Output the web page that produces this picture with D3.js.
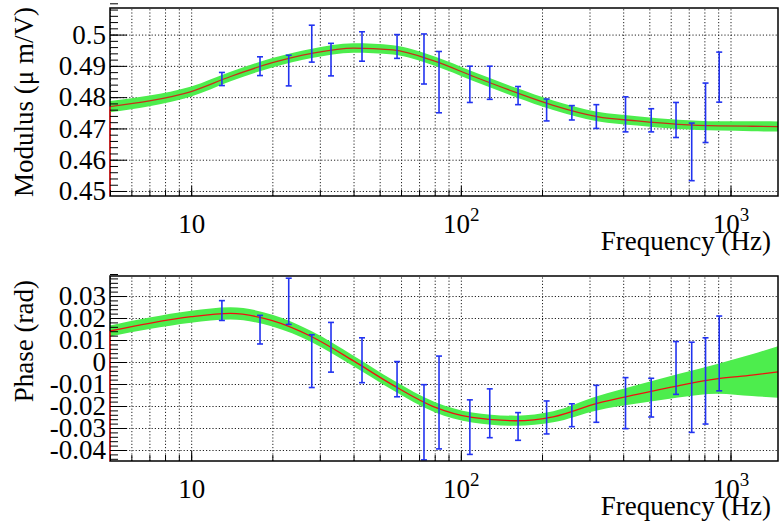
<!DOCTYPE html>
<html>
<head>
<meta charset="utf-8">
<script src="https://cdn.jsdelivr.net/npm/d3@7"></script>
<style>
  body { margin: 0; background: #fff; }
</style>
</head>
<body>
<svg id="chart" width="780" height="530" font-family="Liberation Serif"></svg>
<script>
// measured points (Hz)
const freq = [13, 18, 23, 28, 33, 43, 58, 73, 83, 108, 128, 163, 208, 258, 318, 408, 508, 628, 718, 808, 908];
const modulus = [0.4858, 0.4899, 0.4885, 0.4971, 0.4920, 0.4962, 0.4962, 0.4922, 0.4848, 0.4841, 0.4846,
                 0.4805, 0.4759, 0.4750, 0.4738, 0.4745, 0.4726, 0.4727, 0.4625, 0.4750, 0.4864];
const modulusErr = [0.0021, 0.0030, 0.0049, 0.0059, 0.0052, 0.0047, 0.0038, 0.0080, 0.0098, 0.0058, 0.0053,
                    0.0029, 0.0035, 0.0023, 0.0038, 0.0056, 0.0037, 0.0056, 0.0092, 0.0095, 0.0080];
const phase = [0.0234, 0.0147, 0.0276, 0.0004, 0.0067, 0.0008, -0.0078, -0.0274, -0.0184, -0.0296, -0.0233,
               -0.0293, -0.0252, -0.0242, -0.0190, -0.0187, -0.0162, -0.0027, -0.0115, -0.0086, 0.0039];
const phaseErr = [0.0045, 0.0065, 0.0105, 0.0120, 0.0113, 0.0102, 0.0080, 0.0171, 0.0211, 0.0124, 0.0111,
                  0.0063, 0.0075, 0.0052, 0.0084, 0.0116, 0.0088, 0.0120, 0.0205, 0.0196, 0.0170];

// fitted curve and its band, read at these frequencies
const fitFreq = [5, 7, 10, 14, 20, 28, 40, 56, 80, 110, 160, 220, 320, 450, 640, 900, 1200, 1500];
const modulusFit = [0.4770, 0.4788, 0.4818, 0.4866, 0.4910, 0.4940, 0.4957, 0.4951, 0.4915, 0.4868, 0.4815,
                    0.4774, 0.4738, 0.4724, 0.4713, 0.4708, 0.4707, 0.4706];
const modulusBand = [0.0018, 0.0017, 0.0016, 0.0015, 0.0015, 0.0015, 0.0015, 0.0015, 0.0015, 0.0015, 0.0015,
                     0.0015, 0.0015, 0.0015, 0.0015, 0.0015, 0.0016, 0.0016];
const phaseFit = [0.0141, 0.0176, 0.0206, 0.0221, 0.0188, 0.0115, 0.0005, -0.0105, -0.0205, -0.0252, -0.0267,
                  -0.0249, -0.0188, -0.0147, -0.0108, -0.0076, -0.0060, -0.0045];
const phaseBand = [0.0025, 0.0026, 0.0027, 0.0028, 0.0027, 0.0025, 0.0024, 0.0023, 0.0023, 0.0023, 0.0023,
                   0.0025, 0.0032, 0.0042, 0.0053, 0.0068, 0.0095, 0.0117];

const modulusTicks = [0.45, 0.46, 0.47, 0.48, 0.49, 0.5];
const modulusLabels = ['0.45', '0.46', '0.47', '0.48', '0.49', '0.5'];
const phaseTicks = [-0.04, -0.03, -0.02, -0.01, 0, 0.01, 0.02, 0.03];
const phaseLabels = ['-0.04', '-0.03', '-0.02', '-0.01', '0', '0.01', '0.02', '0.03'];
const freqTicks = [10, 100, 1000];
const freqLabels = [['10', ''], ['10', '2'], ['10', '3']];

const left = 110, right = 778;
const svg = d3.select('#chart');
const x = d3.scaleLog().domain([5, 1500]).range([left, right]);

function serifText(sel, size) {
  return sel
    .attr('font-family', 'Liberation Serif')
    .attr('font-size', size)
    .style('font-family', '"Liberation Serif"');
}

// d3 axes put font-family="sans-serif" on their group; drop it
function plainAxis(a) {
  a.attr('font-family', null).attr('font-size', null);
  a.select('.domain').remove();
  a.selectAll('line').attr('stroke', '#000');
}

function drawPanel(p) {
  const y = d3.scaleLinear().domain(p.domain).range([p.bottom, p.top]);
  const g = svg.append('g');
  const height = p.bottom - p.top;

  // grid
  g.append('g')
    .attr('transform', `translate(0, ${p.bottom})`)
    .call(d3.axisBottom(x).tickSize(-height).tickSizeOuter(0).tickFormat(''))
    .call(plainAxis)
    .selectAll('line')
      .attr('stroke', '#222')
      .attr('stroke-dasharray', '1.2,2');
  g.append('g')
    .attr('transform', `translate(${left}, 0)`)
    .call(d3.axisLeft(y).tickValues(p.ticks).tickSize(-(right - left)).tickSizeOuter(0).tickFormat(''))
    .call(plainAxis)
    .selectAll('line')
      .attr('stroke', '#222')
      .attr('stroke-dasharray', '1.2,2');

  // fit band and curve
  const fit = fitFreq.map((f, i) => ({ f, v: p.fit[i], b: p.band[i] }));
  g.append('path')
    .datum(fit)
    .attr('d', d3.area()
      .x(d => x(d.f))
      .y0(d => y(d.v - d.b))
      .y1(d => y(d.v + d.b))
      .curve(d3.curveMonotoneX))
    .attr('fill', '#4ded4d');
  g.append('path')
    .datum(fit)
    .attr('d', d3.line()
      .x(d => x(d.f))
      .y(d => y(d.v))
      .curve(d3.curveMonotoneX))
    .attr('fill', 'none')
    .attr('stroke', p.lineColor)
    .attr('stroke-width', 1.3);

  // error bars, kept inside the frame
  const [lo, hi] = p.domain;
  const pts = freq.map((f, i) => ({
    f,
    a: Math.max(p.values[i] - p.errors[i], lo),
    b: Math.min(p.values[i] + p.errors[i], hi)
  }));
  const bars = g.append('g')
    .selectAll('g')
    .data(pts)
    .join('g')
      .attr('stroke', '#2233f0')
      .attr('stroke-width', 1.6);
  bars.append('line')
    .attr('x1', d => x(d.f))
    .attr('x2', d => x(d.f))
    .attr('y1', d => y(d.a))
    .attr('y2', d => y(d.b));
  bars.append('line')
    .attr('x1', d => x(d.f) - 3)
    .attr('x2', d => x(d.f) + 3)
    .attr('y1', d => y(d.a))
    .attr('y2', d => y(d.a));
  bars.append('line')
    .attr('x1', d => x(d.f) - 3)
    .attr('x2', d => x(d.f) + 3)
    .attr('y1', d => y(d.b))
    .attr('y2', d => y(d.b));

  // frame
  g.append('rect')
    .attr('x', left)
    .attr('y', p.top)
    .attr('width', right - left)
    .attr('height', height)
    .attr('fill', 'none')
    .attr('stroke', '#000')
    .attr('stroke-width', 1.5);

  // red segment of the function along the left edge
  g.append('line')
    .attr('x1', x(fitFreq[0]))
    .attr('x2', x(fitFreq[0]))
    .attr('y1', y(p.fit[0]))
    .attr('y2', p.bottom)
    .attr('stroke', '#f02020')
    .attr('stroke-width', 1.5);

  // x ticks
  g.append('g')
    .attr('transform', `translate(0, ${p.bottom})`)
    .call(d3.axisBottom(x).tickSize(-6).tickSizeOuter(0).tickFormat(''))
    .call(plainAxis);
  const xMajor = g.append('g')
    .attr('transform', `translate(0, ${p.bottom})`)
    .call(d3.axisBottom(x).tickValues(freqTicks).tickSize(-10).tickSizeOuter(0).tickFormat(''))
    .call(plainAxis);
  const labels = xMajor.selectAll('.tick')
    .append('text')
      .attr('y', 37)
      .attr('fill', '#000')
      .attr('text-anchor', 'middle')
      .call(serifText, 27);
  labels.append('tspan').text((d, i) => freqLabels[i][0]);
  labels.filter((d, i) => freqLabels[i][1] !== '')
    .append('tspan')
      .attr('dy', -12)
      .attr('font-size', 19)
      .text(d => freqLabels[freqTicks.indexOf(d)][1]);

  // y ticks
  g.append('g')
    .attr('transform', `translate(${left}, 0)`)
    .call(d3.axisLeft(y).tickValues(d3.range(p.domain[0] + 1e-9, p.domain[1], p.minorStep)
      .map(v => Math.ceil(v / p.minorStep - 1e-6) * p.minorStep)).tickSize(-8).tickSizeOuter(0).tickFormat(''))
    .call(plainAxis);
  g.append('g')
    .attr('transform', `translate(${left}, 0)`)
    .call(d3.axisLeft(y).tickValues(p.ticks).tickSize(-17).tickSizeOuter(0).tickPadding(4)
      .tickFormat((d, i) => p.labels[i]))
    .call(plainAxis)
    .selectAll('text')
      .attr('fill', '#000')
      .call(serifText, 27);

  // titles
  g.append('text')
    .attr('transform', `translate(33, ${p.titleEnd}) rotate(-90)`)
    .attr('text-anchor', 'end')
    .call(serifText, 27)
    .text(p.title);
  g.append('text')
    .attr('x', 771)
    .attr('y', p.bottom + 54)
    .attr('text-anchor', 'end')
    .call(serifText, 27)
    .text('Frequency (Hz)');
}

drawPanel({
  top: 8, bottom: 196, domain: [0.4484, 0.5085],
  ticks: modulusTicks, labels: modulusLabels, minorStep: 0.002,
  values: modulus, errors: modulusErr, fit: modulusFit, band: modulusBand,
  lineColor: '#c83018', title: 'Modulus (μ m/V)', titleEnd: 7
});
drawPanel({
  top: 276, bottom: 461, domain: [-0.045, 0.0391],
  ticks: phaseTicks, labels: phaseLabels, minorStep: 0.002,
  values: phase, errors: phaseErr, fit: phaseFit, band: phaseBand,
  lineColor: '#f01010', title: 'Phase (rad)', titleEnd: 280
});
</script>
</body>
</html>
